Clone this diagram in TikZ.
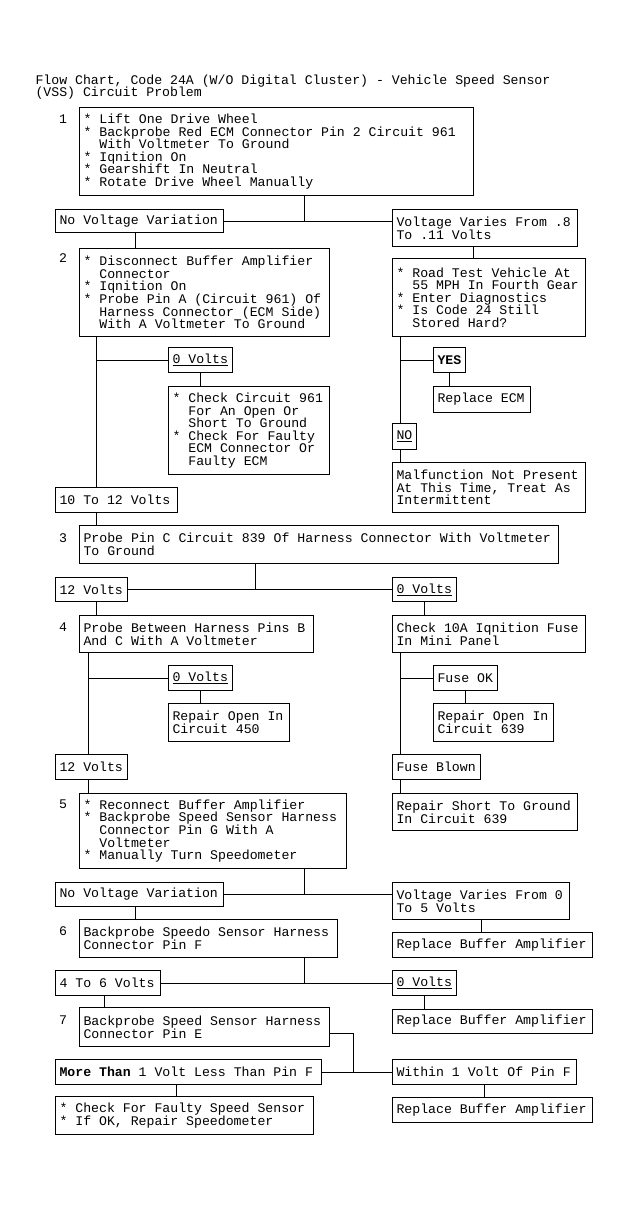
\documentclass[tikz,border=0pt]{standalone}
\usepackage{fontspec}
\usepackage{tikz}
\newfontfamily\chartmono{Liberation Mono}
\newcommand{\chartfont}{\chartmono\fontsize{13.2pt}{12.6pt}\selectfont}
\newcommand{\ind}{\hspace*{1.2em}}
\newcommand{\vin}{\relax*\ }
\tikzstyle{box}=[draw, line width=1pt, anchor=north west, inner xsep=4pt, inner ysep=2pt, align=flush left, font=\chartfont]
\tikzstyle{num}=[font=\chartfont]

\begin{document}
\begin{tikzpicture}[x=1pt, y=-1pt, line width=1pt]
\useasboundingbox (0,0) rectangle (630,1210);
\node[font=\chartfont, anchor=north west, inner sep=0pt, align=flush left] (titulo) at (35,74) {Flow Chart, Code 24A (W/O Digital Cluster) - Vehicle Speed Sensor\\(VSS) Circuit Problem};
% Pasos 1 y 2
\node[num] (n1) at (63,119) {1};
\node[box, text width=386pt, minimum height=88pt] (s1) at (79,107) {\vin Lift One Drive Wheel\\\vin Backprobe Red ECM Connector Pin 2 Circuit 961\\\ind With Voltmeter To Ground\\\vin Iqnition On\\\vin Gearshift In Neutral\\\vin Rotate Drive Wheel Manually};
\node[box, text width=160pt, minimum height=23pt] (nv1) at (55,209) {No Voltage Variation};
\node[box, text width=177pt, minimum height=37pt] (vv1) at (392,209) {Voltage Varies From .8\\To .11 Volts};
\node[num] (n2) at (63,258) {2};
\node[box, text width=242pt, minimum height=88pt] (s2) at (79,248) {\vin Disconnect Buffer Amplifier\\\ind Connector\\\vin Iqnition On\\\vin Probe Pin A (Circuit 961) Of\\\ind Harness Connector (ECM Side)\\\ind With A Voltmeter To Ground};
\node[box, text width=185pt, minimum height=78pt] (rt) at (392,258) {\vin Road Test Vehicle At\\\ind 55 MPH In Fourth Gear\\\vin Enter Diagnostics\\\vin Is Code 24 Still\\\ind Stored Hard?};
\node[box, text width=56pt, minimum height=25pt] (zv1) at (168,347) {\underline{0 Volts}};
\node[box, text width=153pt, minimum height=88pt] (chk) at (168,386) {\vin Check Circuit 961\\\ind For An Open Or\\\ind Short To Ground\\\vin Check For Faulty\\\ind ECM Connector Or\\\ind Faulty ECM};
\node[box, text width=24pt, minimum height=25pt] (yes) at (433,347) {\textbf{YES}};
\node[box, text width=89pt, minimum height=26pt] (recm) at (433,386) {Replace ECM};
\node[box, text width=16pt, minimum height=26pt] (no) at (392,423) {\underline{NO}};
\node[box, text width=185pt, minimum height=50pt] (mal) at (392,462) {Malfunction Not Present\\At This Time, Treat As\\Intermittent};
\node[box, text width=114pt, minimum height=25pt] (tt) at (55,487) {10 To 12 Volts};
% Pasos 3 y 4
\node[num] (n3) at (63,538) {3};
\node[box, text width=471pt, minimum height=38pt] (s3) at (79,525) {Probe Pin C Circuit 839 Of Harness Connector With Voltmeter\\To Ground};
\node[box, text width=64pt, minimum height=24pt] (tv1) at (55,577) {12 Volts};
\node[box, text width=56pt, minimum height=24pt] (zv2) at (392,577) {\underline{0 Volts}};
\node[num] (n4) at (63,627) {4};
\node[box, text width=226pt, minimum height=37pt] (s4) at (79,615) {Probe Between Harness Pins B\\And C With A Voltmeter};
\node[box, text width=185pt, minimum height=37pt] (fuse) at (392,615) {Check 10A Iqnition Fuse\\In Mini Panel};
\node[box, text width=56pt, minimum height=25pt] (zv3) at (168,665) {\underline{0 Volts}};
\node[box, text width=56pt, minimum height=25pt] (fok) at (433,665) {Fuse OK};
\node[box, text width=113pt, minimum height=38pt] (r450) at (168,703) {Repair Open In\\Circuit 450};
\node[box, text width=112pt, minimum height=38pt] (r639) at (433,703) {Repair Open In\\Circuit 639};
\node[box, text width=64pt, minimum height=25pt] (tv2) at (55,754) {12 Volts};
\node[box, text width=80pt, minimum height=25pt] (fb) at (392,754) {Fuse Blown};
% Pasos 5, 6 y 7
\node[num] (n5) at (63,804) {5};
\node[box, text width=259pt, minimum height=75pt] (s5) at (79,793) {\vin Reconnect Buffer Amplifier\\\vin Backprobe Speed Sensor Harness\\\ind Connector Pin G With A\\\ind Voltmeter\\\vin Manually Turn Speedometer};
\node[box, text width=177pt, minimum height=37pt] (rs) at (392,793) {Repair Short To Ground\\In Circuit 639};
\node[box, text width=160pt, minimum height=24pt] (nv2) at (55,882) {No Voltage Variation};
\node[box, text width=169pt, minimum height=37pt] (vv2) at (392,882) {Voltage Varies From 0\\To 5 Volts};
\node[num] (n6) at (63,931) {6};
\node[box, text width=250pt, minimum height=38pt] (s6) at (79,919) {Backprobe Speedo Sensor Harness\\Connector Pin F};
\node[box, text width=192pt, minimum height=25pt] (rba1) at (392,932) {Replace Buffer Amplifier};
\node[box, text width=97pt, minimum height=25pt] (fs) at (55,970) {4 To 6 Volts};
\node[box, text width=56pt, minimum height=25pt] (zv4) at (392,970) {\underline{0 Volts}};
\node[num] (n7) at (63,1020) {7};
\node[box, text width=242pt, minimum height=39pt] (s7) at (79,1007) {Backprobe Speed Sensor Harness\\Connector Pin E};
\node[box, text width=192pt, minimum height=24pt] (rba2) at (392,1009) {Replace Buffer Amplifier};
\node[box, text width=258pt, minimum height=25pt] (mt) at (55,1059) {\textbf{More Than} 1 Volt Less Than Pin F};
\node[box, text width=176pt, minimum height=25pt] (w1) at (392,1059) {Within 1 Volt Of Pin F};
\node[box, text width=250pt, minimum height=38pt] (css) at (55,1096) {\vin Check For Faulty Speed Sensor\\\vin If OK, Repair Speedometer};
\node[box, text width=192pt, minimum height=25pt] (rba3) at (392,1097) {Replace Buffer Amplifier};
% Puntos de union
\coordinate (j1) at (304,220.5);
\coordinate (j3) at (255,589);
\coordinate (j5) at (304,894);
\coordinate (j6) at (304,982.5);
\coordinate (j7) at (353,1033);
\coordinate (a1) at (135,0);
\coordinate (a2) at (96,0);
\coordinate (a3) at (473,0);
\coordinate (a4) at (400,0);
\coordinate (a5) at (88,0);
\coordinate (a6) at (104,0);
\coordinate (a7) at (176,0);
% Conexiones
\draw (s1.south -| j1) -- (j1);
\draw (nv1.east) -- (nv1.east -| vv1.west);
\draw (nv1.south -| a1) -- (s2.north -| a1);
\draw (vv1.south -| a3) -- (rt.north -| a3);
\draw (s2.south -| a2) -- (tt.north -| a2);
\draw (zv1.west -| a2) -- (zv1.west);
\draw (zv1.south) -- (chk.north -| zv1.south);
\draw (rt.south -| a4) -- (no.north -| a4);
\draw (yes.west -| a4) -- (yes.west);
\draw (yes.south) -- (recm.north -| yes.south);
\draw (no.south -| a4) -- (mal.north -| a4);
\draw (tt.south -| a2) -- (s3.north -| a2);
\draw (s3.south -| j3) -- (j3);
\draw (tv1.east) -- (tv1.east -| zv2.west);
\draw (tv1.south -| a2) -- (s4.north -| a2);
\draw (zv2.south) -- (fuse.north -| zv2.south);
\draw (s4.south -| a5) -- (tv2.north -| a5);
\draw (zv3.west -| a5) -- (zv3.west);
\draw (zv3.south) -- (r450.north -| zv3.south);
\draw (fuse.south -| a4) -- (fb.north -| a4);
\draw (fok.west -| a4) -- (fok.west);
\draw (fok.south) -- (r639.north -| fok.south);
\draw (fb.south -| a4) -- (rs.north -| a4);
\draw (tv2.south -| a5) -- (s5.north -| a5);
\draw (s5.south -| j5) -- (j5);
\draw (nv2.east) -- (nv2.east -| vv2.west);
\draw (nv2.south -| a1) -- (s6.north -| a1);
\draw (vv2.south) -- (rba1.north -| vv2.south);
\draw (s6.south -| j6) -- (j6);
\draw (fs.east) -- (fs.east -| zv4.west);
\draw (zv4.south) -- (rba2.north -| zv4.south);
\draw (fs.south -| a6) -- (s7.north -| a6);
\draw (j7 -| s7.east) -- (j7) -- (j7 |- mt.east);
\draw (mt.east) -- (mt.east -| w1.west);
\draw (mt.south -| a7) -- (css.north -| a7);
\draw (w1.south) -- (rba3.north -| w1.south);
\end{tikzpicture}
\end{document}
